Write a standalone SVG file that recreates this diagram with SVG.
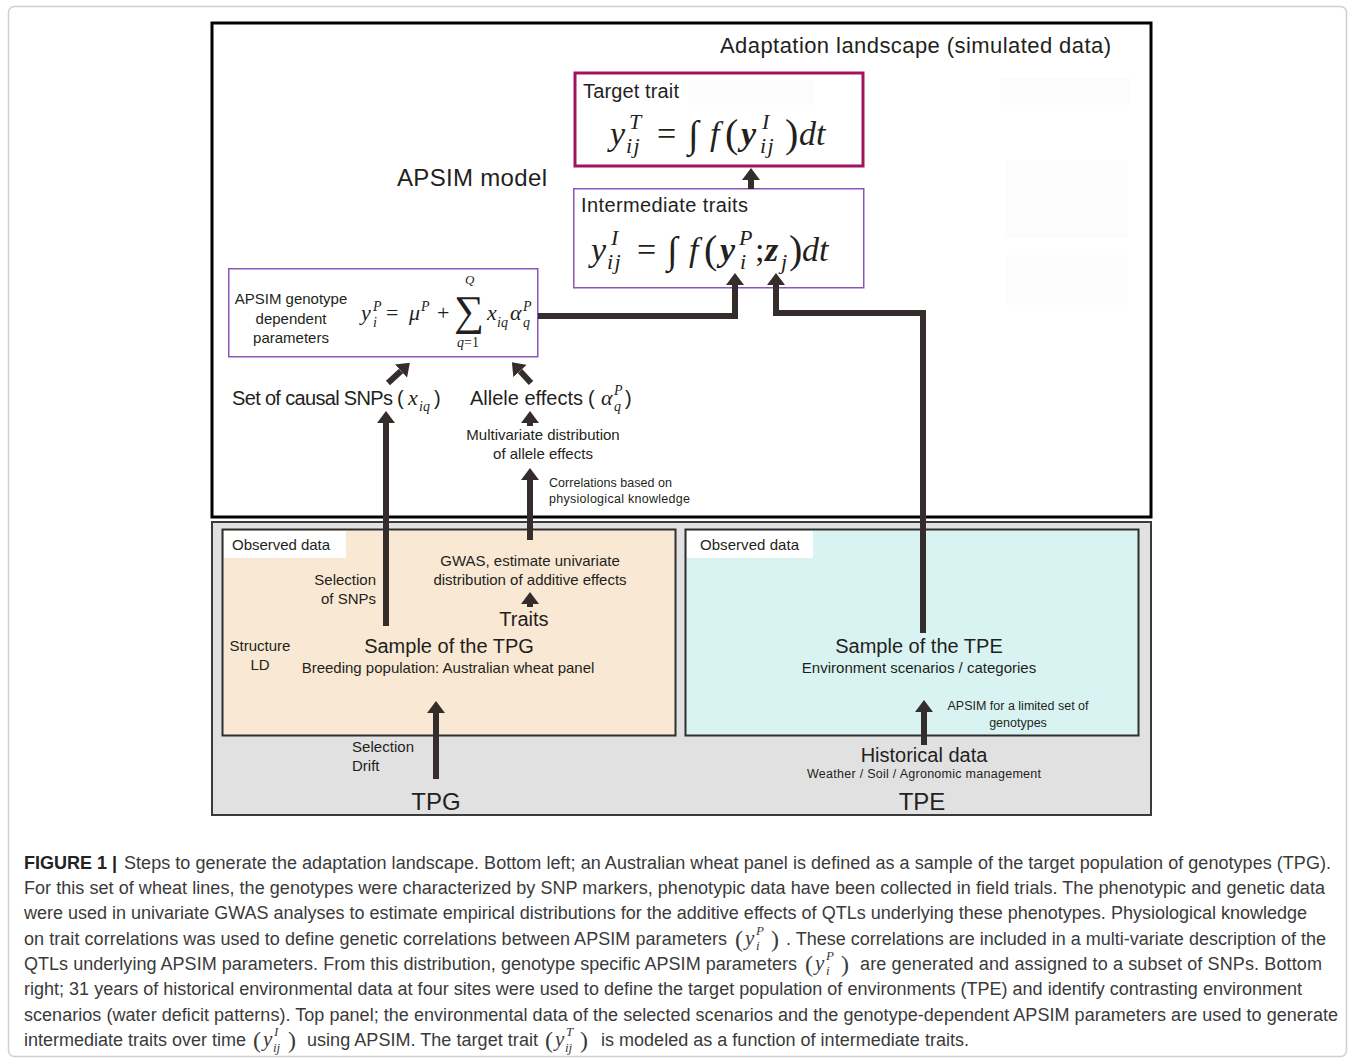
<svg xmlns="http://www.w3.org/2000/svg" width="1355" height="1058" viewBox="0 0 1355 1058">
<defs>
<style>
.t{font-family:"Liberation Sans",Arial,sans-serif;fill:#231f20}
.m{font-family:"Liberation Serif","DejaVu Serif",serif;font-style:italic;fill:#231f20}
.r{font-family:"Liberation Serif","DejaVu Serif",serif;fill:#231f20}
.c{font-family:"Liberation Sans",Arial,sans-serif;fill:#3a3a3a;font-size:18px}
.cm{font-family:"Liberation Serif","DejaVu Serif",serif;font-style:italic;fill:#3a3a3a}
.cr{font-family:"Liberation Serif","DejaVu Serif",serif;fill:#3a3a3a}
.conn{fill:none;stroke:#352d2c;stroke-width:6;marker-end:url(#ah)}
.faint{fill:#fcfcfc}
.sb{font-size:22px;letter-spacing:1.5px}
</style>
<marker id="ah" markerUnits="userSpaceOnUse" markerWidth="12" markerHeight="18" viewBox="0 0 12 18" refX="0" refY="9" orient="auto">
<path d="M0,0 L12,9 L0,18 z" fill="#352d2c"/>
</marker>
</defs>
<rect x="0" y="0" width="1355" height="1058" fill="#ffffff"/>
<rect x="8.5" y="6.5" width="1338" height="1050" rx="6" fill="none" stroke="#cfcfcf" stroke-width="1.5"/>

<g id="top-panel">
<rect x="212" y="23" width="939" height="494" fill="#ffffff" stroke="#000000" stroke-width="3"/>
<rect class="faint" x="1000" y="78" width="130" height="27"/>
<rect class="faint" x="1005" y="160" width="123" height="78"/>
<rect class="faint" x="1005" y="255" width="123" height="50"/>
<text class="t" x="720" y="53" font-size="22" textLength="391">Adaptation landscape (simulated data)</text>
<text class="t" x="397" y="186" font-size="24" textLength="150">APSIM model</text>
</g>

<g id="bottom-panel">
<rect x="212" y="522" width="939" height="293" fill="#e1e1e1" stroke="#3a3a3a" stroke-width="2"/>
<text class="t" x="436" y="810" font-size="24" text-anchor="middle">TPG</text>
<text class="t" x="922" y="810" font-size="24" text-anchor="middle">TPE</text>
</g>

<g id="node-target-trait">
<rect x="575" y="73" width="288" height="93" fill="#ffffff" stroke="#a2125d" stroke-width="3"/>
<rect class="faint" x="688" y="80" width="127" height="25"/>
<text class="t" x="583" y="98" font-size="20" textLength="96">Target trait</text>
<text class="m" x="610" y="145" font-size="34">y</text>
<text class="m" x="629" y="129" font-size="22">T</text>
<text class="m sb" x="626" y="153">ij</text>
<text class="r" x="657" y="145" font-size="34">=</text>
<text class="r" x="688" y="147" font-size="38">∫</text>
<text class="m" x="710" y="145" font-size="34">f</text>
<text class="r" x="725" y="147" font-size="40">(</text>
<text class="m" x="741" y="145" font-size="34" font-weight="bold">y</text>
<text class="m" x="762" y="129" font-size="22">I</text>
<text class="m sb" x="760" y="153">ij</text>
<text class="r" x="785" y="147" font-size="40">)</text>
<text class="m" x="799" y="145" font-size="34">dt</text>
</g>

<g id="node-intermediate-traits">
<rect x="573.75" y="188.75" width="290" height="99" fill="#ffffff" stroke="#8c55b6" stroke-width="1.5"/>
<text class="t" x="581" y="212" font-size="20" textLength="167">Intermediate traits</text>
<text class="m" x="591" y="261" font-size="34">y</text>
<text class="m" x="611" y="245" font-size="22">I</text>
<text class="m sb" x="607" y="269">ij</text>
<text class="r" x="637" y="261" font-size="34">=</text>
<text class="r" x="667" y="263" font-size="38">∫</text>
<text class="m" x="689" y="261" font-size="34">f</text>
<text class="r" x="704" y="263" font-size="40">(</text>
<text class="m" x="720" y="261" font-size="34" font-weight="bold">y</text>
<text class="m" x="739" y="245" font-size="22">P</text>
<text class="m" x="740" y="269" font-size="22">i</text>
<text class="r" x="755" y="261" font-size="34">;</text>
<text class="m" x="765" y="261" font-size="34" font-weight="bold">z</text>
<text class="m" x="781" y="269" font-size="22">j</text>
<text class="r" x="789" y="263" font-size="40">)</text>
<text class="m" x="802" y="261" font-size="34">dt</text>
</g>

<g id="node-apsim-params">
<rect x="228.75" y="268.75" width="309" height="88" fill="#ffffff" stroke="#8c55b6" stroke-width="1.5"/>
<text class="t" x="291" y="304" font-size="15" text-anchor="middle">APSIM genotype</text>
<text class="t" x="291" y="324" font-size="15" text-anchor="middle">dependent</text>
<text class="t" x="291" y="343" font-size="15" text-anchor="middle">parameters</text>
<text class="m" x="361" y="320" font-size="22">y</text>
<text class="m" x="373" y="311" font-size="14">P</text>
<text class="m" x="373" y="327" font-size="14">i</text>
<text class="r" x="386" y="320" font-size="22">=</text>
<text class="m" x="409" y="320" font-size="22">μ</text>
<text class="m" x="421" y="311" font-size="14">P</text>
<text class="r" x="437" y="320" font-size="22">+</text>
<text class="r" x="454" y="325" font-size="42">∑</text>
<text class="m" x="465" y="284" font-size="13">Q</text>
<text class="m" x="457" y="347" font-size="14">q</text>
<text class="r" x="464" y="347" font-size="14">=1</text>
<text class="m" x="487" y="320" font-size="22">x</text>
<text class="m" x="497" y="327" font-size="14">iq</text>
<text class="m" x="510" y="320" font-size="22">α</text>
<text class="m" x="523" y="311" font-size="14">P</text>
<text class="m" x="523" y="327" font-size="14">q</text>
</g>

<g id="node-causal-snps">
<text class="t" x="232" y="405" font-size="20" textLength="161">Set of causal SNPs</text>
<text class="t" x="397" y="405" font-size="20">(</text>
<text class="m" x="408" y="405" font-size="22">x</text>
<text class="m" x="419" y="411" font-size="14">iq</text>
<text class="t" x="434" y="405" font-size="20">)</text>
</g>

<g id="node-allele-effects">
<text class="t" x="470" y="405" font-size="20" textLength="113">Allele effects</text>
<text class="t" x="588" y="405" font-size="20">(</text>
<text class="m" x="601" y="405" font-size="22">α</text>
<text class="m" x="614" y="395" font-size="14">P</text>
<text class="m" x="614" y="411" font-size="14">q</text>
<text class="t" x="625" y="405" font-size="20">)</text>
</g>

<g id="node-multivariate">
<text class="t" x="543" y="440" font-size="15" text-anchor="middle">Multivariate distribution</text>
<text class="t" x="543" y="459" font-size="15" text-anchor="middle">of allele effects</text>
<text class="t" x="549" y="487" font-size="12.5" textLength="123">Correlations based on</text>
<text class="t" x="549" y="503" font-size="12.5" textLength="141">physiological knowledge</text>
</g>

<g id="node-tpg-sample">
<rect x="222.5" y="529.5" width="453" height="206" fill="#f9e8d3" stroke="#2e2e2e" stroke-width="2"/>
<rect x="224" y="531" width="122" height="27" fill="#ffffff"/>
<text class="t" x="232" y="550" font-size="15" textLength="98">Observed data</text>
<text class="t" x="376" y="585" font-size="15" text-anchor="end">Selection</text>
<text class="t" x="376" y="604" font-size="15" text-anchor="end">of SNPs</text>
<text class="t" x="530" y="566" font-size="15" text-anchor="middle">GWAS, estimate univariate</text>
<text class="t" x="530" y="585" font-size="15" text-anchor="middle">distribution of additive effects</text>
<text class="t" x="524" y="626" font-size="20" text-anchor="middle">Traits</text>
<text class="t" x="260" y="651" font-size="15" text-anchor="middle">Structure</text>
<text class="t" x="260" y="670" font-size="15" text-anchor="middle">LD</text>
<text class="t" x="449" y="653" font-size="20" text-anchor="middle">Sample of the TPG</text>
<text class="t" x="448" y="673" font-size="15" text-anchor="middle">Breeding population: Australian wheat panel</text>
<text class="t" x="352" y="752" font-size="15" textLength="62">Selection</text>
<text class="t" x="352" y="771" font-size="15">Drift</text>
</g>

<g id="node-tpe-sample">
<rect x="685.5" y="529.5" width="453" height="206" fill="#d9f3f2" stroke="#2e2e2e" stroke-width="2"/>
<rect x="687" y="531" width="126" height="27" fill="#ffffff"/>
<text class="t" x="700" y="550" font-size="15" textLength="99">Observed data</text>
<text class="t" x="919" y="653" font-size="20" text-anchor="middle">Sample of the TPE</text>
<text class="t" x="919" y="673" font-size="15" text-anchor="middle">Environment scenarios / categories</text>
<text class="t" x="1018" y="710" font-size="12.5" text-anchor="middle">APSIM for a limited set of</text>
<text class="t" x="1018" y="727" font-size="12.5" text-anchor="middle">genotypes</text>
</g>

<g id="node-historical">
<text class="t" x="924" y="762" font-size="20" text-anchor="middle">Historical data</text>
<text class="t" x="924" y="778" font-size="12.5" text-anchor="middle" textLength="234">Weather / Soil  / Agronomic management</text>
</g>

<g id="connectors">
<path class="conn" stroke-width="5" d="M751,189 V180"/>
<path class="conn" d="M538,316 H735 V285"/>
<path class="conn" d="M923,633 V313 H776 V285"/>
<path class="conn" stroke-width="7" d="M388,383 L401,371"/>
<path class="conn" stroke-width="7" d="M531,383 L520,371"/>
<path class="conn" stroke-width="5" d="M530,426 V423"/>
<path class="conn" d="M530,540 V480"/>
<path class="conn" d="M386,626 V423"/>
<path class="conn" stroke-width="5" d="M530,607 V604"/>
<path class="conn" d="M436,779 V713"/>
<path class="conn" d="M924,745 V712"/>
</g>

<g id="caption">
<text class="c" x="24" y="869"><tspan font-weight="bold" fill="#222">FIGURE 1 |</tspan></text>
<text class="c" x="124" y="869" textLength="1207">Steps to generate the adaptation landscape. Bottom left; an Australian wheat panel is defined as a sample of the target population of genotypes (TPG).</text>
<text class="c" x="24" y="894" textLength="1301">For this set of wheat lines, the genotypes were characterized by SNP markers, phenotypic data have been collected in field trials. The phenotypic and genetic data</text>
<text class="c" x="24" y="919" textLength="1283">were used in univariate GWAS analyses to estimate empirical distributions for the additive effects of QTLs underlying these phenotypes. Physiological knowledge</text>
<text class="c" x="24" y="945" textLength="703">on trait correlations was used to define genetic correlations between APSIM parameters</text>
<text class="cr" x="735" y="947" font-size="24">(</text>
<text class="cm" x="745" y="945" font-size="21">y</text>
<text class="cm" x="756" y="935" font-size="13">P</text>
<text class="cm" x="756" y="950" font-size="13">i</text>
<text class="cr" x="771" y="947" font-size="24">)</text>
<text class="c" x="786" y="945" textLength="540">. These correlations are included in a multi-variate description of the</text>
<text class="c" x="24" y="970" textLength="773">QTLs underlying APSIM parameters. From this distribution, genotype specific APSIM parameters</text>
<text class="cr" x="805" y="972" font-size="24">(</text>
<text class="cm" x="815" y="970" font-size="21">y</text>
<text class="cm" x="826" y="960" font-size="13">P</text>
<text class="cm" x="826" y="975" font-size="13">i</text>
<text class="cr" x="841" y="972" font-size="24">)</text>
<text class="c" x="860" y="970" textLength="462">are generated and assigned to a subset of SNPs. Bottom</text>
<text class="c" x="24" y="995" textLength="1278">right; 31 years of historical environmental data at four sites were used to define the target population of environments (TPE) and identify contrasting environment</text>
<text class="c" x="24" y="1021" textLength="1314">scenarios (water deficit patterns). Top panel; the environmental data of the selected scenarios and the genotype-dependent APSIM parameters are used to generate</text>
<text class="c" x="24" y="1046" textLength="222">intermediate traits over time</text>
<text class="cr" x="253" y="1048" font-size="24">(</text>
<text class="cm" x="263" y="1046" font-size="21">y</text>
<text class="cm" x="274" y="1036" font-size="13">I</text>
<text class="cm" x="273" y="1052" font-size="13">ij</text>
<text class="cr" x="288" y="1048" font-size="24">)</text>
<text class="c" x="307" y="1046" textLength="231">using APSIM. The target trait</text>
<text class="cr" x="545" y="1048" font-size="24">(</text>
<text class="cm" x="555" y="1046" font-size="21">y</text>
<text class="cm" x="566" y="1036" font-size="13">T</text>
<text class="cm" x="565" y="1052" font-size="13">ij</text>
<text class="cr" x="580" y="1048" font-size="24">)</text>
<text class="c" x="601" y="1046" textLength="368">is modeled as a function of intermediate traits.</text>
</g>
</svg>
